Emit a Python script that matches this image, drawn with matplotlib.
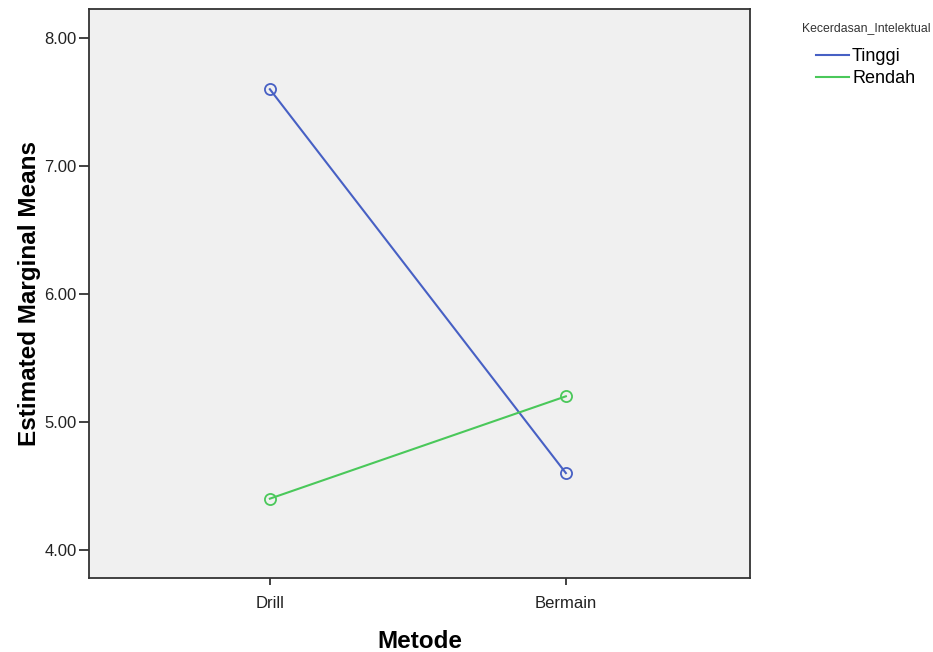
import matplotlib
matplotlib.use("Agg")
import matplotlib.pyplot as plt

categories = ["Drill", "Bermain"]
series_names = ["Tinggi", "Rendah"]
tinggi = [7.60, 4.60]
rendah = [4.40, 5.20]
yticks = [4.0, 5.0, 6.0, 7.0, 8.0]
legend_title = "Kecerdasan_Intelektual"

colors = ["#4760c4", "#4ac85a"]

plt.rcParams['font.family'] = ['Liberation Sans', 'DejaVu Sans']
fig = plt.figure(figsize=(9.33, 6.52), dpi=100)
ax = fig.add_axes([89/933, 1-578/652, (750-89)/933, (578-9)/652])
ax.set_facecolor("#f0f0f0")

x = list(range(len(categories)))
lines = []
for vals, name, c in zip([tinggi, rendah], series_names, colors):
    ln, = ax.plot(x, vals, color=c, lw=1.5, marker='o', markersize=8,
                  markerfacecolor='none', markeredgecolor=c, markeredgewidth=1.3,
                  label=name)
    lines.append(ln)

ax.set_xlim(-0.611, 1.622)
ax.set_ylim(3.78, 8.227)
ax.set_xticks(x)
ax.set_xticklabels(categories)
ax.set_yticks(yticks)
ax.set_yticklabels([f"{v:.2f}" for v in yticks])
ax.tick_params(axis='both', labelsize=12, colors='#333333', width=1.3, direction='out')
ax.tick_params(axis='y', length=7.5, pad=1.5)
ax.tick_params(axis='x', length=5, pad=8)
ax.tick_params(axis='both', labelcolor='#222222')
for s in ax.spines.values():
    s.set_color('#333333')
    s.set_linewidth(1.3)

ax.set_ylabel("Estimated Marginal Means", fontsize=17.5, fontweight='bold', labelpad=2)
ax.set_xlabel("Metode", fontsize=17.5, fontweight='bold', labelpad=14)

fig.text(866/933, 1-28/652, legend_title, fontsize=8.8, ha='center', va='center', color='#333333')
leg = fig.legend(handles=lines, labels=series_names, loc='upper left',
                 bbox_to_anchor=(816/933, 1-48/652), frameon=False, fontsize=13,
                 handlelength=1.8, handletextpad=0.2, labelspacing=0.3,
                 borderaxespad=0, borderpad=0)
for h in leg.legend_handles:
    h.set_marker('')

fig.savefig("out.png", dpi=100)
